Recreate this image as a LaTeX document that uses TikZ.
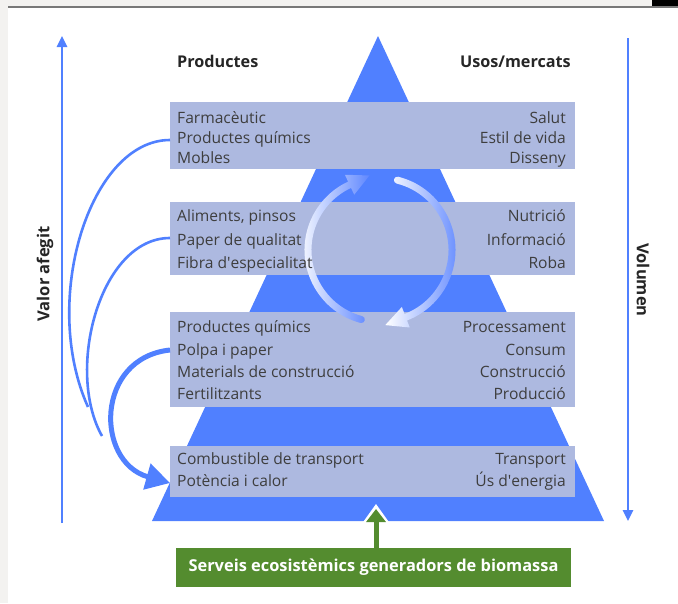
\documentclass[tikz,border=0pt]{standalone}
\usepackage{fontspec}
\setmainfont{Open Sans}
\usetikzlibrary{arrows.meta,calc}
\definecolor{pyr}{RGB}{80,128,255}
\definecolor{band}{RGB}{173,185,224}
\definecolor{txt}{RGB}{62,62,62}
\definecolor{grn}{RGB}{84,140,47}
\definecolor{bggray}{RGB}{243,242,240}
\definecolor{arcblue}{RGB}{95,135,255}
\definecolor{topline}{RGB}{120,120,120}
\tikzset{
  bandbox/.style={fill=band, draw=none, anchor=north west, inner sep=0pt},
  lt/.style={text=txt, font=\fontsize{15.6}{18}\selectfont, inner sep=0pt, anchor=base west},
  rt/.style={text=txt, font=\fontsize{15.6}{18}\selectfont, inner sep=0pt, anchor=base east},
  hdr/.style={text=black!85, font=\fontsize{16.2}{18}\selectfont\bfseries, inner sep=0pt},
  vhdr/.style={text=black!85, font=\fontsize{16.5}{18}\selectfont\bfseries, inner sep=0pt},
  vline/.style={draw=pyr, line width=2.5pt, -{Triangle[length=11pt,width=10pt]}},
  thinc/.style={draw=pyr, line width=2.6pt},
  greenbox/.style={fill=grn, text=white, font=\fontsize{16.4}{19}\selectfont\bfseries, minimum width=395pt, minimum height=39pt, inner sep=0pt}
}
\begin{document}
\begin{tikzpicture}[x=1pt,y=-1pt]
\useasboundingbox (0,0) rectangle (678,603);
% frame
\fill[bggray] (0,0) rectangle (678,603);
\fill[white] (8,8) rectangle (678,603);
\fill[black] (652,0) rectangle (678,7);
\draw[topline, line width=1.8pt] (8,7) -- (678,7);

% pyramid
\fill[pyr] (378,36) -- (604,521) -- (152,521) -- cycle;

% bands
\node[bandbox, minimum width=405pt, minimum height=67pt] (b1) at (170,102) {};
\node[bandbox, minimum width=405pt, minimum height=73pt] (b2) at (170,202) {};
\node[bandbox, minimum width=405pt, minimum height=95pt] (b3) at (170,312) {};
\node[bandbox, minimum width=405pt, minimum height=51pt] (b4) at (170,446) {};

% circular arrows
\coordinate (C) at (380,250);
\shade[left color=white, right color=arcblue]
 ([shift={(105:75.5)}]C) arc[start angle=105, end angle=245, radius=75.5]
 -- ([shift={(245:83)}]C) -- ($(C)+(245:72)+(335:22)$) -- ([shift={(245:61)}]C)
 -- ([shift={(245:68.5)}]C) arc[start angle=245, end angle=105, radius=68.5]
 arc[start angle=285, end angle=465, radius=3.5] -- cycle;
\shade[left color=white, right color=arcblue]
 ([shift={(284:75.5)}]C) arc[start angle=284, end angle=429, radius=75.5]
 -- ([shift={(429:83)}]C) -- ($(C)+(429:72)+(519:22)$) -- ([shift={(429:61)}]C)
 -- ([shift={(429:68.5)}]C) arc[start angle=429, end angle=284, radius=68.5]
 arc[start angle=104, end angle=284, radius=3.5] -- cycle;

% headers
\node[hdr, anchor=base west] (hp) at (177,67) {Productes};
\node[hdr, anchor=base east] (hu) at (571,67) {Usos/mercats};

% band 1 texts
\node[lt] (p11) at (177,123) {Farmacèutic};
\node[lt] (p12) at (177,143) {Productes químics};
\node[lt] (p13) at (177,163) {Mobles};
\node[rt] (u11) at (566,123) {Salut};
\node[rt] (u12) at (566,143) {Estil de vida};
\node[rt] (u13) at (566,163) {Disseny};
% band 2 texts
\node[lt] (p21) at (177,221) {Aliments, pinsos};
\node[lt] (p22) at (177,245) {Paper de qualitat};
\node[lt] (p23) at (177,268) {Fibra d\textquotesingle especialitat};
\node[rt] (u21) at (566,221) {Nutrició};
\node[rt] (u22) at (566,245) {Informació};
\node[rt] (u23) at (566,268) {Roba};
% band 3 texts
\node[lt] (p31) at (177,332) {Productes químics};
\node[lt] (p32) at (177,355) {Polpa i paper};
\node[lt] (p33) at (177,377) {Materials de construcció};
\node[lt] (p34) at (177,399) {Fertilitzants};
\node[rt] (u31) at (566,332) {Processament};
\node[rt] (u32) at (566,355) {Consum};
\node[rt] (u33) at (566,377) {Construcció};
\node[rt] (u34) at (566,399) {Producció};
% band 4 texts
\node[lt] (p41) at (177,464) {Combustible de transport};
\node[lt] (p42) at (177,486) {Potència i calor};
\node[rt] (u41) at (566,464) {Transport};
\node[rt] (u42) at (566,486) {Ús d\textquotesingle energia};

% vertical arrows
\coordinate (la0) at (62,523);
\coordinate (la1) at (62,36);
\draw[vline] (la0) -- (la1);
\coordinate (ra0) at (628,38);
\coordinate (ra1) at (628,521);
\draw[vline] (ra0) -- (ra1);
\node[vhdr, rotate=90] (va) at (45,274) {Valor afegit};
\node[vhdr, rotate=-90] (vo) at (643,280) {Volumen};

% left curves
\coordinate (cb0) at (b1.west |- 0,140);
\coordinate (cb1) at (88,407);
\draw[thinc] (cb0) .. controls (90,140) and (40,300) .. (cb1);
\coordinate (ca0) at (b2.west |- 0,238);
\coordinate (ca1) at (102,436);
\draw[thinc] (ca0) .. controls (100,238) and (65,370) .. (ca1);
\coordinate (ct0) at (b3.west |- 0,350);
\draw[draw=pyr, line width=5pt, -{Triangle[length=24pt,width=26pt]}]
  (ct0) .. controls (95,358) and (95,462) .. (b4.west |- 0,483);

% green box and arrow
\node[greenbox] (gb) at (373.5,567.5) {Serveis ecosistèmics generadors de biomassa};
\fill[white] (376,504) -- (391,525) -- (361,525) -- cycle;
\coordinate (gt) at (376,509);
\draw[grn, line width=5pt, -{Triangle[length=13pt,width=19pt]}] (gb.north -| gt) -- (gt);
\end{tikzpicture}
\end{document}
